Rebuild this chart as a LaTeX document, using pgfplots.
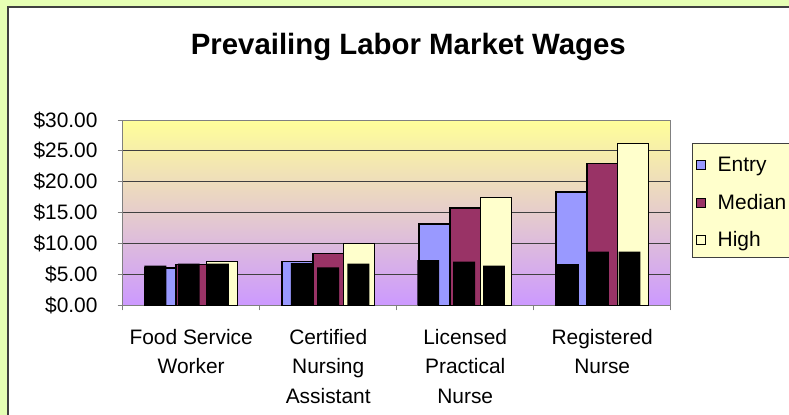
\documentclass[border=0pt]{standalone}
\usepackage{pgfplots}
\pgfplotsset{compat=1.18}
\usepackage{fontspec}
\setmainfont{Liberation Sans}
\definecolor{outerg}{RGB}{230,255,180}
\definecolor{entryc}{RGB}{153,153,255}
\definecolor{medc}{RGB}{153,51,102}
\definecolor{highc}{RGB}{255,255,204}
\definecolor{topc}{RGB}{255,255,153}
\definecolor{botc}{RGB}{204,153,255}
\definecolor{gridc}{RGB}{64,64,64}
\definecolor{framec}{RGB}{128,128,128}
\begin{document}
\begin{tikzpicture}
\fill[outerg] (0bp,0bp) rectangle (789bp,-415bp);
\fill[white, draw=gridc, line width=1.5bp] (8bp,-7bp) rectangle (800bp,-430bp);
\node[anchor=base, font=\bfseries\fontsize{29.5}{32}\selectfont, inner sep=0pt] at (408.3bp,-54bp) {Prevailing Labor Market Wages};
\fill[highc, draw=gridc, line width=0.8bp] (692.5bp,-143.3bp) rectangle (800bp,-257.7bp);
\begin{axis}[
  at={(122.7bp,-305.3bp)}, anchor=south west,
  scale only axis, width=548bp, height=185.3bp,
  xmin=-0.5, xmax=3.5, ymin=0, ymax=30,
  ytick={0,5,10,15,20,25,30},
  xtick={0,1,2,3},
  xticklabels={{Food Service\\Worker},{Certified\\Nursing\\Assistant},{Licensed\\Practical\\Nurse},{Registered\\Nurse}},
  minor xtick={-0.5,0.5,1.5,2.5,3.5},
  xtick style={draw=none},
  minor x tick style={draw=framec, line width=0.8bp},
  ytick style={draw=framec, line width=0.8bp},
  tick align=outside, tick pos=left,
  major tick length=5bp, minor tick length=5bp,
  ymajorgrids, major grid style={draw=gridc, line width=0.9bp},
  axis line style={draw=framec, line width=0.9bp},
  axis background/.style={top color=topc, bottom color=botc},
  /pgf/number format/assume math mode=true,
  yticklabel={\$\pgfmathprintnumber[fixed,fixed zerofill,precision=2]{\tick}},
  yticklabel style={font=\fontsize{21}{24}\selectfont, anchor=east, inner sep=0pt, xshift=-20bp},
  xticklabel style={font=\fontsize{21}{29.5}\selectfont, align=center, anchor=north, inner sep=0pt, yshift=-18.7bp},
  legend style={at={(rel axis cs:1,1)}, anchor=north west, xshift=22bp, yshift=-24bp,
    draw=none, fill=none, font=\fontsize{21}{24}\selectfont,
    nodes={inner sep=0pt, minimum height=37.5bp, anchor=west},
    /tikz/every odd column/.append style={column sep=12bp}},
  legend cell align=left,
  legend image code/.code={\draw[#1,/tikz/.cd,draw=black,line width=0.8bp] (0bp,-4.5bp) rectangle (9bp,4.5bp);},
  clip=false,
]
\addplot[ybar, bar width=0.225, bar shift=-0.225, fill=entryc, draw=black, line width=1.5bp]
  coordinates {(0,6.05) (1,7.06) (2,13.20) (3,18.38)};
\addlegendentry{Entry}
\addplot[ybar, bar width=0.225, bar shift=0, fill=medc, draw=black, line width=1.5bp]
  coordinates {(0,6.57) (1,8.41) (2,15.74) (3,22.97)};
\addlegendentry{Median}
\addplot[ybar, bar width=0.225, bar shift=0.225, fill=highc, draw=black, line width=1.5bp]
  coordinates {(0,7.06) (1,9.97) (2,17.42) (3,26.20)};
\addlegendentry{High}
\addplot[ybar, bar width=0.16, bar shift=0, fill=black, draw=none, forget plot]
  coordinates {(-0.261,6.41) (-0.018,6.73) (0.195,6.73)
               (0.808,6.84) (1.000,6.15) (1.220,6.73)
               (1.730,7.33) (1.992,7.06) (2.210,6.41)
               (2.749,6.68) (2.968,8.68) (3.199,8.68)};
\end{axis}
\pgfresetboundingbox
\path (0bp,0bp) rectangle (789bp,-415bp);
\end{tikzpicture}
\end{document}
